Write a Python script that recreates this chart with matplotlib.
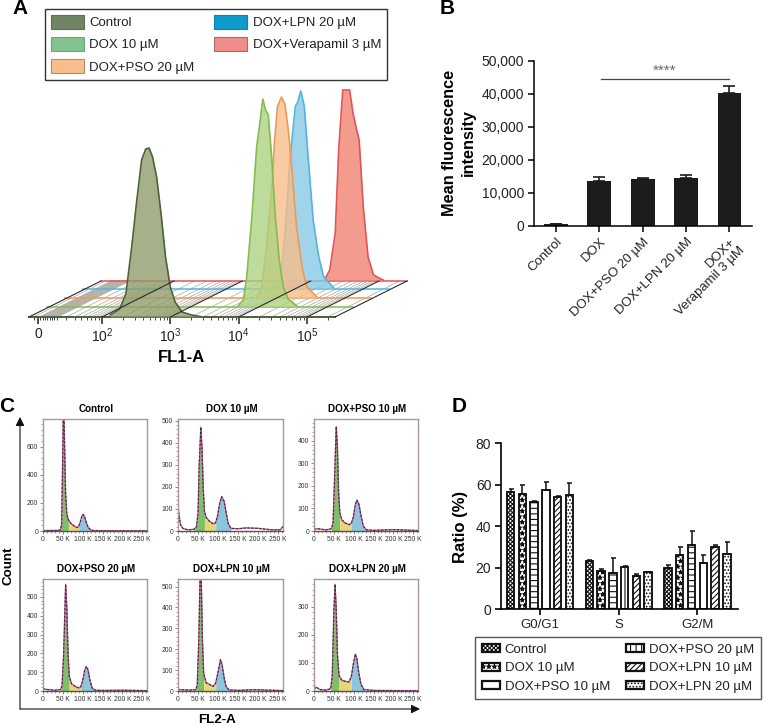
"""Four-panel figure: FL1 histograms, MFI bars, cell-cycle histograms, cycle ratio bars."""

import numpy as np
import matplotlib
matplotlib.use("Agg")
import matplotlib.pyplot as plt
from matplotlib.patches import Patch
from matplotlib.transforms import Affine2D

plt.rcParams['font.family'] = ['Liberation Sans', 'DejaVu Sans']
plt.rcParams['hatch.linewidth'] = 0.8

W, H = 764, 726

# Panel A: log10 FL1 value vs height of each histogram
A_LABELS = ['Control', 'DOX 10 µM', 'DOX+PSO 20 µM', 'DOX+LPN 20 µM', 'DOX+Verapamil 3 µM']
ctrl_x = [2.12, 2.26, 2.35, 2.435, 2.51, 2.58, 2.64, 2.69, 2.74, 2.80, 2.87, 2.93, 3.0, 3.07, 3.17, 3.31, 3.48]
ctrl_y = [2, 8, 23, 70, 117, 157, 168, 169, 160, 140, 100, 60, 30, 15, 5, 2, 0]
dox_x = [3.73, 3.805, 3.855, 3.93, 4.0, 4.04, 4.09, 4.13, 4.17, 4.22, 4.27, 4.33, 4.39, 4.46, 4.59]
dox_y = [1, 7, 30, 90, 160, 180, 208, 197, 192, 150, 93, 47, 20, 8, 1]
pso_x = [3.74, 3.81, 3.88, 3.96, 4.0, 4.04, 4.10, 4.15, 4.20, 4.25, 4.32, 4.40, 4.47, 4.62]
pso_y = [1, 11, 51, 111, 158, 191, 201, 194, 168, 131, 71, 31, 11, 1]
lpn_x = [3.72, 3.82, 3.89, 3.96, 4.04, 4.07, 4.12, 4.17, 4.23, 4.30, 4.38, 4.45, 4.60]
lpn_y = [1, 9, 56, 129, 183, 186, 198, 183, 129, 69, 33, 13, 1]
ver_x = [4.21, 4.28, 4.36, 4.41, 4.47, 4.57, 4.62, 4.66, 4.71, 4.77, 4.84, 4.92, 5.06]
ver_y = [2, 11, 48, 131, 191, 191, 168, 155, 141, 74, 24, 6, 1]
A_MAJOR = [1.063, 2, 3, 4, 5]
A_MAJOR_LABELS = ['0', '$\\mathregular{10^2}$', '$\\mathregular{10^3}$', '$\\mathregular{10^4}$', '$\\mathregular{10^5}$']
A_LOW_TICKS = [1.0, 1.1, 1.13, 1.17, 1.2, 1.24, 1.27, 1.3, 1.34]

# Panel B
B_LABELS = ['Control', 'DOX', 'DOX+PSO 20 µM', 'DOX+LPN 20 µM', 'DOX+\nVerapamil 3 µM']
B_VALUES = [600, 13700, 14200, 14600, 40300]
B_ERRORS = [150, 1100, 300, 1000, 2100]

# Panel C: FL2 (K) vs count
C_TITLES = ['Control', 'DOX 10 µM', 'DOX+PSO 10 µM', 'DOX+PSO 20 µM', 'DOX+LPN 10 µM', 'DOX+LPN 20 µM']
C_YMAX = [797, 507, 497, 595, 536, 398]
C_YTICKS = [[0, 200, 400, 600], [0, 100, 200, 300, 400, 500], [0, 100, 200, 300, 400],
            [0, 100, 200, 300, 400, 500], [0, 100, 200, 300, 400, 500], [0, 100, 200, 300]]
c0_x = [0, 38, 44, 47, 49, 51, 53, 55, 57, 60, 64, 70, 78, 86, 90, 94, 98, 101, 105, 109, 114, 120, 128, 150, 200, 262]
c0_y = [3, 4, 8, 50, 400, 797, 797, 520, 260, 120, 80, 55, 36, 24, 32, 65, 105, 118, 100, 60, 25, 8, 3, 2, 1, 1]
c1_x = [0, 2, 6, 12, 25, 40, 46, 50, 53, 57, 60, 63, 66, 70, 78, 88, 94, 99, 104, 109, 115, 120, 125, 132, 150, 170, 200, 230, 255, 262]
c1_y = [120, 80, 30, 12, 5, 8, 18, 80, 300, 470, 370, 190, 90, 62, 45, 32, 38, 70, 125, 155, 135, 85, 35, 12, 10, 14, 12, 6, 5, 20]
c2_x = [0, 10, 30, 44, 48, 52, 56, 59, 62, 65, 70, 78, 88, 94, 99, 104, 108, 113, 118, 124, 132, 150, 200, 262]
c2_y = [8, 10, 5, 10, 35, 240, 463, 370, 170, 80, 50, 36, 28, 34, 60, 115, 137, 120, 72, 22, 5, 3, 6, 2]
c3_x = [0, 10, 30, 44, 48, 52, 57, 60, 63, 66, 72, 80, 90, 95, 100, 105, 109, 113, 118, 124, 132, 150, 200, 262]
c3_y = [12, 8, 4, 8, 25, 190, 567, 440, 200, 80, 38, 26, 16, 22, 55, 110, 130, 115, 60, 15, 4, 3, 4, 2]
c4_x = [0, 10, 30, 44, 48, 52, 55, 58, 61, 64, 70, 80, 88, 94, 100, 106, 110, 115, 120, 128, 150, 190, 262]
c4_y = [6, 6, 4, 6, 25, 250, 536, 536, 240, 85, 40, 30, 22, 38, 90, 150, 125, 65, 20, 5, 3, 6, 2]
c5_x = [0, 5, 15, 30, 42, 46, 50, 53, 56, 59, 63, 70, 80, 88, 94, 99, 104, 108, 112, 118, 126, 150, 262]
c5_y = [6, 14, 5, 3, 8, 50, 280, 379, 290, 130, 55, 38, 34, 32, 50, 95, 131, 115, 72, 25, 5, 2, 1]
C_X = [c0_x, c1_x, c2_x, c3_x, c4_x, c5_x]
C_Y = [c0_y, c1_y, c2_y, c3_y, c4_y, c5_y]
C_G1_END = [64, 66, 65, 66, 64, 63]
C_G2_START = [90, 94, 94, 95, 94, 94]
C_G2_END = [120, 132, 132, 132, 128, 126]
C_XTICKS = [0, 50, 100, 150, 200, 250]
C_XLABELS = ['0', '50 K', '100 K', '150 K', '200 K', '250 K']

# Panel D
D_GROUPS = ['G0/G1', 'S', 'G2/M']
D_LABELS = ['Control', 'DOX 10 µM', 'DOX+PSO 10 µM', 'DOX+PSO 20 µM', 'DOX+LPN 10 µM', 'DOX+LPN 20 µM']
D_VALUES = [[56.5, 23.3, 20.0], [55.5, 18.3, 26.3], [51.5, 17.5, 30.8],
            [57.5, 20.2, 22.3], [54.3, 16.0, 29.8], [55.2, 18.0, 26.7]]
D_ERRORS = [[1.3, 0.3, 1.5], [4.3, 1.2, 3.5], [0.8, 7.0, 6.9],
            [3.7, 0.5, 3.9], [0.3, 1.0, 1.2], [5.6, 0.2, 5.6]]
D_HATCH = ['xxxxxxxx', '***', '---', '|', '//////', '.....']
D_LEGEND_HATCH = ['xxxxxxxx', '***', '', '|||', '//////', '.....']


def px_axes(fig, left, top, right, bottom):
    # axes placed by its pixel box, measured from the top-left of the image
    return fig.add_axes([left / W, 1 - bottom / H, (right - left) / W, (bottom - top) / H])


fig = plt.figure(figsize=(W / 100, H / 100), dpi=100, facecolor='white')

# overlay in pixel coordinates for panel letters, shared labels and arrows
bg = fig.add_axes([0, 0, 1, 1], zorder=-1)
bg.set_xlim(0, W)
bg.set_ylim(H, 0)
bg.axis('off')
for letter, lx, ly in [('A', 20, 8), ('B', 447, 8), ('C', 7, 406), ('D', 459, 406)]:
    bg.text(lx, ly, letter, fontsize=15, fontweight='bold', ha='center', va='center')

# ---- Panel A ----
ax = px_axes(fig, 29, 87, 335, 317)
ax.set_xlim(0.932, 5.41)
ax.set_ylim(0, 230)
ax.patch.set_alpha(0)
for side in ['top', 'left', 'right']:
    ax.spines[side].set_visible(False)
ax.spines['bottom'].set_color('#5f6650')
ax.spines['bottom'].set_linewidth(1.4)

floor_shift = 72 / 68.33
minor = list(A_LOW_TICKS)
for dec in [1, 2, 3, 4, 5]:
    for m in range(2, 10):
        val = dec + np.log10(m)
        if 1.36 < val < 5.4:
            minor.append(val)
for val in minor:
    ax.plot([val, val + floor_shift], [0, 36], color='#a8a8a8', lw=0.5, zorder=1, clip_on=False)
ax.fill([1.09, 1.34, 1.34 + floor_shift, 1.09 + floor_shift], [0, 0, 36, 36], color='#b5b2ab', zorder=1, clip_on=False)
for val in [0.932, 2, 3, 4, 5, 5.41]:
    ax.plot([val, val + floor_shift], [0, 36], color='#2b2b2b', lw=0.8, zorder=7, clip_on=False)

layers = [
    (ver_x, ver_y, '#f0806f', '#e2545a', 72, 36),
    (lpn_x, lpn_y, '#84c8e6', '#55b4dd', 54, 28),
    (pso_x, pso_y, '#f8bd88', '#ee9a55', 36, 19),
    (dox_x, dox_y, '#abd27f', '#85bb50', 18, 10),
    (ctrl_x, ctrl_y, '#8d9c68', '#4f6238', 0, 0),
]
for i, (xs, ys, fc, lc, dx, dy) in enumerate(layers):
    tr = Affine2D().translate(dx, dy)
    z = 2 + i
    ax.plot([0.932, 5.41], [0, 0], color=lc, lw=1.3, transform=ax.transData + tr, zorder=z, clip_on=False, alpha=0.85)
    ax.fill_between(xs, ys, 0, color=fc, alpha=0.78, lw=0, transform=ax.transData + tr, zorder=z, clip_on=False)
    ax.plot(xs, ys, color=lc, lw=1.2, transform=ax.transData + tr, zorder=z, clip_on=False)

ax.set_yticks([])
ax.set_xticks(A_MAJOR)
ax.set_xticklabels(A_MAJOR_LABELS, fontsize=10, color='#222222')
ax.set_xticks(minor, minor=True)
ax.tick_params(axis='x', which='major', length=5, width=1.2, color='#333333', pad=2)
ax.tick_params(axis='x', which='minor', length=2.5, width=0.7, color='#444444')
bg.text(181, 357, 'FL1-A', fontsize=12, fontweight='bold', ha='center', va='center')

a_colors = ['#6f8566', '#84c28f', '#f7bd8c', '#0f9ccd', '#f08d88']
a_edges = ['#5d6f55', '#6fa37a', '#b08d70', '#0d83ab', '#a86b66']
a_handles = [Patch(facecolor=c, edgecolor=e, label=l, lw=0.8) for c, e, l in zip(a_colors, a_edges, A_LABELS)]
fig.legend(handles=a_handles, ncol=2, loc='upper left', bbox_to_anchor=(45 / W, 1 - 9 / H), borderaxespad=0,
           fontsize=9.5, frameon=True, fancybox=False, edgecolor='#333333', framealpha=1,
           handlelength=2.5, handleheight=1.22, handletextpad=0.4, columnspacing=1.5,
           labelspacing=0.6, borderpad=0.45, labelcolor='#222222')

# ---- Panel B ----
ax = px_axes(fig, 534, 61, 752, 226)
ax.set_xlim(-0.508, 4.52)
ax.set_ylim(0, 50000)
ax.bar(range(5), B_VALUES, width=0.55, color='#1d1c1a', yerr=[np.zeros(5), B_ERRORS],
       error_kw=dict(ecolor='#1d1c1a', lw=1.2, capsize=4.5, capthick=1.2))
for side in ['top', 'right']:
    ax.spines[side].set_visible(False)
for side in ['left', 'bottom']:
    ax.spines[side].set_linewidth(1.1)
ax.set_yticks(range(0, 50001, 10000))
ax.set_yticklabels(['0', '10,000', '20,000', '30,000', '40,000', '50,000'], fontsize=10, color='#222222')
ax.set_xticks(range(5))
ax.set_xticklabels(B_LABELS, rotation=45, ha='right', va='top', rotation_mode='anchor', fontsize=9.5,
                   color='#222222', linespacing=1.05, multialignment='right')
# the two-line label sits a little up and left of its tick
last = ax.get_xticklabels()[-1]
last.set_transform(last.get_transform() + Affine2D().translate(-7, 4))
ax.tick_params(length=4, width=1.1, pad=3)
ax.plot([1.03, 4.0], [44450, 44450], color='#444444', lw=0.9)
ax.text(2.5, 45000, '****', ha='center', va='bottom', fontsize=11, color='#666666')
bg.text(459, 143, 'Mean fluorescence\nintensity', rotation=90, fontsize=11.7, fontweight='bold',
        ha='center', va='center', linespacing=1.3, multialignment='center')

# ---- Panel C ----
c_cols = [(43, 147), (178, 283), (314, 418)]
c_rows = [(419, 531), (579, 691)]
for i in range(6):
    left, right = c_cols[i % 3]
    top, bottom = c_rows[i // 3]
    ax = px_axes(fig, left, top, right, bottom)
    x = np.array(C_X[i])
    y = np.array(C_Y[i])
    ax.fill_between(x, y, where=(x <= C_G1_END[i]) & (x >= 38), color='#7fbf6a', lw=0)
    ax.fill_between(x, y, where=(x >= C_G1_END[i]) & (x <= C_G2_START[i]), color='#e8d77a', lw=0)
    ax.fill_between(x, y, where=(x >= C_G2_START[i]) & (x <= C_G2_END[i]), color='#8cc6dc', lw=0)
    ax.plot(x, y, color='#c9509b', lw=1.0)
    ax.plot(x, y, color='#333333', lw=0.8, ls=(0, (2, 1.5)))
    ax.set_xlim(0, 262)
    ax.set_ylim(0, C_YMAX[i])
    ax.set_xticks(C_XTICKS)
    ax.set_xticklabels(C_XLABELS, fontsize=4.9, color='#333333')
    ax.set_yticks(C_YTICKS[i])
    ax.set_yticklabels(C_YTICKS[i], fontsize=4.9, color='#333333')
    ax.set_xticks(np.arange(0, 262, 10), minor=True)
    step = C_YTICKS[i][1] / 5
    ax.set_yticks(np.arange(0, C_YMAX[i], step), minor=True)
    ax.tick_params(which='major', length=2, width=0.6, color='#777777', pad=1.5)
    ax.tick_params(which='minor', length=1.2, width=0.5, color='#8a7f78')
    for side in ['top', 'left', 'right']:
        ax.spines[side].set_color('#a89a93')
        ax.spines[side].set_linewidth(1.0)
    ax.spines['bottom'].set_color('#555555')
    ax.spines['bottom'].set_linewidth(1.0)
    bg.text((left + right) / 2 + 1, top - 10, C_TITLES[i], fontsize=7.1, fontweight='bold', ha='center', va='center')

arrow = dict(arrowstyle='-|>', color='#111111', lw=0.8, mutation_scale=13, shrinkA=0, shrinkB=0)
bg.annotate('', xy=(20, 417), xytext=(20, 709), arrowprops=arrow)
bg.annotate('', xy=(420, 709), xytext=(20, 709), arrowprops=arrow)
bg.text(8, 566, 'Count', rotation=90, fontsize=9.6, fontweight='bold', ha='center', va='center')
bg.text(217, 720, 'FL2-A', fontsize=9.6, fontweight='bold', ha='center', va='center')

# ---- Panel D ----
ax = px_axes(fig, 501, 443.3, 738, 609.3)
ax.set_xlim(-0.496, 2.516)
ax.set_ylim(0, 80)
bar_step = 0.1495
for i in range(6):
    xs = np.arange(3) + (i - 2.5) * bar_step
    ax.bar(xs, D_VALUES[i], width=0.095, facecolor='white', edgecolor='#111111', lw=1.35, hatch=D_HATCH[i],
           yerr=[np.zeros(3), D_ERRORS[i]], error_kw=dict(ecolor='#111111', lw=1.1, capsize=1.8, capthick=1.1))
for side in ['top', 'right']:
    ax.spines[side].set_visible(False)
for side in ['left', 'bottom']:
    ax.spines[side].set_linewidth(1.2)
ax.set_yticks(range(0, 81, 20))
ax.set_yticklabels(range(0, 81, 20), fontsize=10, color='#222222')
ax.set_xticks(range(3))
ax.set_xticklabels(D_GROUPS, fontsize=9.5, color='#222222')
ax.tick_params(length=4, width=1.2, pad=3)
bg.text(461, 527, 'Ratio (%)', rotation=90, fontsize=12, fontweight='bold', ha='center', va='center')

d_handles = [Patch(facecolor='white', edgecolor='#111111', lw=1.6, hatch=h, label=l)
             for h, l in zip(D_LEGEND_HATCH, D_LABELS)]
fig.legend(handles=d_handles, ncol=2, loc='upper left', bbox_to_anchor=(475 / W, 1 - 637 / H), borderaxespad=0,
           fontsize=9.5, frameon=True, fancybox=False, edgecolor='#555555', framealpha=1,
           handlelength=1.36, handleheight=0.55, handletextpad=0.4, columnspacing=1.2,
           labelspacing=0.5, borderpad=0.5, labelcolor='#222222')

fig.savefig('out.png', dpi=100)
plt.close(fig)
